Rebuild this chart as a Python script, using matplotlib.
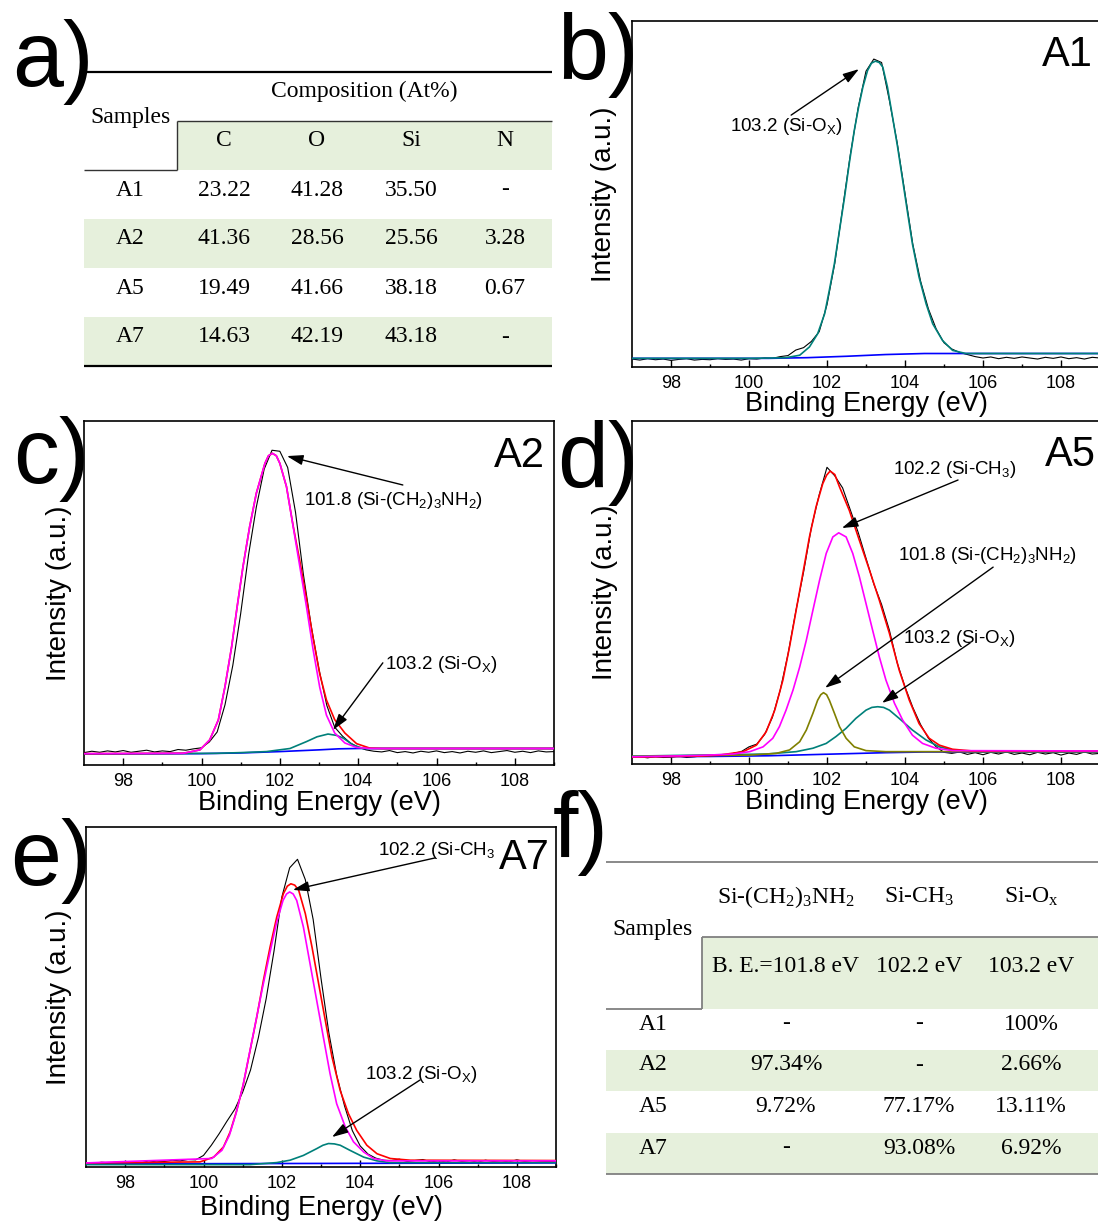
import numpy as np
import matplotlib
matplotlib.use('Agg')
import matplotlib.pyplot as plt
from matplotlib.patches import Rectangle

plt.rcParams['font.family'] = ['Liberation Sans', 'DejaVu Sans']
plt.rcParams['mathtext.default'] = 'regular'

# ------------------------------------------------------------------
# data : tables
samples = ['A1', 'A2', 'A5', 'A7']
elements = ['C', 'O', 'Si', 'N']
composition = [['23.22', '41.28', '35.50', '-'],
               ['41.36', '28.56', '25.56', '3.28'],
               ['19.49', '41.66', '38.18', '0.67'],
               ['14.63', '42.19', '43.18', '-']]
bonds = ['Si-(CH$_2$)$_3$NH$_2$', 'Si-CH$_3$', 'Si-O$_x$']
bond_be = ['B. E.=101.8 eV', '102.2 eV', '103.2 eV']
bond_pct = [['-', '-', '100%'],
            ['97.34%', '-', '2.66%'],
            ['9.72%', '77.17%', '13.11%'],
            ['-', '93.08%', '6.92%']]

# ------------------------------------------------------------------
# data : Si 2p spectra (intensity in % of plot height), raw on 0.2 eV steps
energy = np.linspace(97, 109, 61)

raw_a1 = [2.3, 2.0, 2.4, 2.1, 2.3, 1.9, 2.2, 2.4, 2.0, 2.2,
          2.1, 2.4, 2.2, 2.3, 2.0, 2.4, 2.3, 2.6, 2.5, 3.0,
          3.3, 4.9, 5.6, 7.4, 10.2, 18.0, 30.0, 45.8, 61.5, 75.0,
          85.5, 89.0, 88.0, 77.0, 64.8, 50.2, 35.5, 24.8, 16.8, 11.0,
          7.0, 5.2, 4.2, 3.6, 3.0, 2.6, 2.9, 2.4, 2.8, 2.5,
          2.9, 2.6, 2.3, 2.8, 2.5, 2.9, 2.4, 2.7, 2.3, 2.8,
          2.6]
raw_a2 = [3.6, 4.0, 3.7, 4.1, 3.8, 4.2, 3.7, 4.0, 4.3, 3.8,
          4.1, 3.9, 4.5, 4.3, 4.7, 5.0, 6.7, 9.6, 17.5, 29.0,
          44.0, 61.0, 75.0, 86.0, 91.5, 91.2, 86.5, 73.5, 55.5, 40.5,
          27.8, 17.3, 11.0, 8.4, 6.4, 5.2, 4.4, 4.0, 3.8, 4.2,
          3.6, 3.9, 3.5, 4.0, 3.7, 4.1, 3.6, 3.9, 3.5, 4.0,
          3.7, 4.1, 3.6, 3.9, 4.2, 3.7, 4.0, 3.6, 4.1, 3.8,
          3.9]
raw_a5 = [1.9, 2.1, 1.8, 2.2, 1.9, 2.0, 2.3, 1.9, 2.1, 2.4,
          2.2, 2.6, 2.5, 3.1, 3.6, 5.0, 5.8, 8.6, 13.6, 21.5,
          32.0, 44.5, 56.0, 69.0, 78.5, 86.5, 84.0, 80.5, 74.0, 67.5,
          60.0, 52.5, 46.5, 39.0, 29.5, 22.5, 16.5, 11.5, 7.5, 5.0,
          3.4, 3.1, 3.5, 2.8, 3.3, 2.7, 3.4, 2.9, 3.5, 2.8,
          3.2, 2.7, 3.4, 2.9, 3.3, 2.6, 3.2, 2.8, 3.5, 2.9,
          3.1]
raw_a7 = [1.3, 1.1, 1.4, 1.2, 1.5, 1.3, 1.4, 1.2, 1.8, 1.5,
          1.6, 2.0, 1.8, 2.2, 2.1, 3.4, 6.4, 9.8, 13.5, 17.0,
          22.0, 28.5, 38.0, 49.5, 63.5, 79.4, 88.0, 90.5, 84.5, 72.8,
          55.5, 39.5, 27.0, 18.0, 10.7, 6.2, 3.8, 2.6, 2.0, 1.9,
          2.3, 1.6, 1.9, 2.2, 1.5, 1.8, 1.5, 2.1, 1.6, 1.9,
          1.4, 2.0, 1.6, 1.8, 1.5, 2.1, 1.6, 1.9, 1.7, 1.6,
          1.7]

# A1 fit
a1_siox_x = [97.0, 100.0, 100.6, 100.95, 101.3, 101.55, 101.76, 101.94, 102.06, 102.19,
             102.32, 102.45, 102.57, 102.7, 102.81, 102.92, 103.04, 103.14, 103.24, 103.34,
             103.43, 103.55, 103.68, 103.81, 103.94, 104.07, 104.19, 104.36, 104.54, 104.71,
             104.96, 105.22, 105.56, 106.0, 109.0]
a1_siox_y = [2.5, 2.5, 2.6, 2.7, 3.4, 5.8, 9.6, 15.4, 22.2, 29.9,
             39.5, 49.1, 58.8, 68.4, 75.1, 80.9, 85.7, 87.8, 88.4, 88.0,
             86.7, 80.9, 72.3, 63.6, 54.0, 44.3, 35.6, 26.0, 18.3, 12.5,
             7.7, 4.8, 3.9, 3.9, 3.9]
a1_bg_x = [97.0, 100.5, 101.5, 102.5, 103.5, 104.5, 105.3, 109.0]
a1_bg_y = [2.5, 2.5, 2.7, 3.1, 3.6, 3.9, 3.9, 3.9]

# A2 fit
a2_amine_x = [97.0, 99.53, 99.96, 100.21, 100.43, 100.6, 100.77, 100.91, 101.06, 101.23,
              101.4, 101.62, 101.71, 101.81, 101.91, 102.0, 102.17, 102.34, 102.51, 102.68,
              102.85, 103.02, 103.19, 103.4, 103.66, 103.96, 104.3, 109.0]
a2_amine_y = [3.3, 3.4, 4.4, 7.3, 13.1, 22.8, 34.4, 46.0, 57.7, 69.3,
              79.0, 87.7, 89.9, 90.6, 89.9, 87.7, 80.9, 69.3, 57.7, 46.0,
              33.5, 22.5, 14.5, 9.3, 6.4, 5.1, 4.8, 4.8]
a2_env_x = [97.0, 99.53, 99.96, 100.21, 100.43, 100.6, 100.77, 100.91, 101.06, 101.23,
            101.4, 101.62, 101.71, 101.81, 101.91, 102.0, 102.17, 102.34, 102.51, 102.68,
            102.85, 103.02, 103.19, 103.4, 103.66, 103.96, 104.3, 104.6, 109.0]
a2_env_y = [3.3, 3.4, 4.4, 7.3, 13.1, 22.8, 34.4, 46.0, 57.7, 69.3,
            79.0, 87.7, 89.9, 90.6, 89.9, 87.7, 80.9, 69.5, 59.3, 48.3,
            36.8, 26.4, 18.9, 13.2, 9.3, 6.2, 4.9, 4.8, 4.8]
a2_siox_x = [97.0, 100.38, 101.0, 101.66, 102.26, 102.68, 102.95, 103.23, 103.45, 103.62,
             103.87, 104.13, 104.5, 109.0]
a2_siox_y = [3.2, 3.4, 3.6, 3.9, 4.8, 6.8, 8.2, 9.0, 8.6, 7.8,
             5.8, 4.8, 4.8, 4.8]
a2_bg_x = [97.0, 100.0, 101.0, 102.0, 103.0, 103.5, 104.0, 109.0]
a2_bg_y = [3.2, 3.3, 3.5, 3.9, 4.4, 4.7, 4.8, 4.8]

# A5 fit
a5_env_x = [97.0, 98.74, 99.25, 99.85, 100.19, 100.44, 100.66, 100.87, 101.04, 101.21,
            101.38, 101.55, 101.72, 101.89, 101.99, 102.08, 102.2, 102.32, 102.57, 102.83,
            103.09, 103.34, 103.6, 103.85, 104.11, 104.36, 104.62, 104.88, 105.22, 105.73,
            109.0]
a5_env_y = [2.0, 2.3, 2.6, 3.6, 5.5, 9.4, 15.7, 24.5, 34.2, 44.9,
            55.5, 66.2, 75.0, 81.7, 84.2, 85.4, 84.4, 80.8, 74.0, 65.2,
            56.5, 47.8, 38.1, 27.4, 18.6, 11.8, 7.5, 5.5, 4.3, 3.8,
            3.8]
a5_methyl_x = [97.0, 98.74, 99.59, 100.02, 100.36, 100.61, 100.78, 100.95, 101.13, 101.3,
               101.47, 101.64, 101.81, 101.98, 102.15, 102.3, 102.49, 102.66, 102.83, 103.0,
               103.17, 103.34, 103.51, 103.73, 103.94, 104.19, 104.45, 104.79, 105.22, 109.0]
a5_methyl_y = [2.1, 2.5, 2.9, 3.6, 5.0, 7.5, 10.9, 15.7, 21.6, 28.3,
               36.1, 44.9, 53.6, 61.4, 66.2, 67.4, 66.2, 61.4, 54.6, 46.8,
               39.0, 31.3, 24.5, 17.7, 12.8, 8.4, 6.0, 4.6, 3.9, 3.8]
a5_amine_x = [97.0, 100.02, 100.7, 101.04, 101.3, 101.47, 101.64, 101.76, 101.84, 101.91,
              101.99, 102.06, 102.19, 102.32, 102.49, 102.7, 103.0, 103.51, 109.0]
a5_amine_y = [2.2, 2.6, 3.1, 4.1, 6.5, 9.9, 14.8, 18.6, 20.2, 20.8,
              20.2, 18.6, 14.8, 10.9, 7.5, 5.0, 3.9, 3.6, 3.6]
a5_siox_x = [97.0, 100.44, 101.21, 101.64, 101.98, 102.23, 102.49, 102.74, 103.0, 103.15,
             103.3, 103.45, 103.6, 103.85, 104.19, 104.54, 104.88, 105.22, 105.73, 109.0]
a5_siox_y = [2.3, 2.9, 3.6, 4.6, 6.0, 8.0, 10.4, 13.3, 15.7, 16.5,
             16.7, 16.5, 15.7, 13.3, 9.9, 7.0, 5.0, 4.1, 3.6, 3.6]
a5_bg_x = [97.0, 99.0, 100.5, 101.5, 102.5, 103.5, 104.5, 109.0]
a5_bg_y = [2.1, 2.2, 2.4, 2.7, 3.0, 3.3, 3.5, 3.5]

# A7 fit
a7_env_x = [97.0, 99.91, 100.26, 100.51, 100.68, 100.85, 101.02, 101.19, 101.36, 101.53,
            101.7, 101.87, 102.04, 102.14, 102.23, 102.33, 102.43, 102.6, 102.77, 102.94,
            103.11, 103.28, 103.49, 103.7, 103.91, 104.17, 104.43, 104.77, 105.28, 109.0]
a7_env_y = [1.2, 1.5, 2.9, 5.9, 10.3, 16.7, 24.5, 34.3, 44.1, 54.9,
            64.7, 73.5, 80.4, 82.6, 83.3, 82.9, 81.4, 74.5, 64.7, 53.9,
            43.1, 32.4, 22.5, 15.7, 10.8, 6.4, 3.9, 2.5, 2.0, 1.9]
a7_methyl_x = [97.0, 100.21, 100.47, 100.66, 100.83, 101.0, 101.17, 101.34, 101.51, 101.69,
               101.86, 102.03, 102.12, 102.2, 102.29, 102.38, 102.55, 102.72, 102.89, 103.06,
               103.23, 103.4, 103.62, 103.83, 104.09, 104.34, 104.68, 109.0]
a7_methyl_y = [1.2, 2.5, 4.9, 9.3, 15.7, 23.5, 33.3, 43.1, 52.9, 62.7,
               71.6, 78.4, 80.3, 80.9, 80.3, 78.4, 70.6, 59.8, 49.0, 38.2,
               27.5, 18.6, 11.8, 7.4, 4.4, 2.5, 1.8, 1.8]
a7_siox_x = [97.0, 101.19, 101.87, 102.21, 102.55, 102.89, 103.05, 103.19, 103.34, 103.49,
             103.74, 104.09, 104.43, 104.77, 109.0]
a7_siox_y = [0.7, 0.7, 1.3, 2.0, 3.4, 5.4, 6.4, 6.9, 6.8, 6.4,
             4.9, 2.9, 1.8, 1.3, 1.3]
a7_bg_x = [97.0, 109.0]
a7_bg_y = [0.9, 1.2]

RED, MAG, TEAL, OLIVE, BLUE = '#ff0000', '#ff00ff', '#00807a', '#808000', '#0000ff'
GREEN = '#e6f0dc'

# ------------------------------------------------------------------
W, H = 1098., 1227.
fig = plt.figure(figsize=(W / 100, H / 100), dpi=100)


def px_axes(l, t, r, b):
    return fig.add_axes([l / W, 1 - b / H, (r - l) / W, (b - t) / H])


def spectrum(box, raw, curves, tag, tag_pos, notes, xl, yl):
    ax = px_axes(*box)
    ax.plot(energy, raw, color='k', lw=0.8, zorder=2)
    for i, (xs, ys, col) in enumerate(curves):
        ax.plot(xs, ys, color=col, lw=1.2, zorder=3 + i)
    ax.set_xlim(97, 109)
    ax.set_ylim(0, 100)
    ax.set_xticks(range(98, 109, 2))
    ax.set_xticks(range(99, 110, 2), minor=True)
    ax.set_yticks([])
    ax.tick_params(axis='x', which='both', direction='in', labelsize=13, pad=6, width=1)
    ax.tick_params(axis='x', which='major', length=5)
    ax.tick_params(axis='x', which='minor', length=2.5)
    for s in ax.spines.values():
        s.set_linewidth(1.2)
    ax.set_xlabel('Binding Energy (eV)', fontsize=19.5)
    ax.xaxis.set_label_coords(0.5, xl)
    ax.set_ylabel('Intensity (a.u.)', fontsize=20)
    ax.yaxis.set_label_coords(yl, 0.5)
    for text, tx, ty, x0, y0, x1, y1 in notes:
        ax.text(tx, ty, text, fontsize=13.5, ha='left', va='center', zorder=10)
        ax.annotate('', xy=(x1, y1), xytext=(x0, y0), zorder=10,
                    arrowprops=dict(arrowstyle='-|>,head_length=0.7,head_width=0.22',
                                    color='k', lw=1.0, mutation_scale=14,
                                    shrinkA=0, shrinkB=0))
    ax.text(tag_pos[0], tag_pos[1], tag, transform=ax.transAxes, ha='right',
            va='baseline', fontsize=30, zorder=11)
    return ax


siox = '103.2 (Si-O$_X$)'
spectrum((632, 21, 1100, 367), raw_a1,
         [(a1_bg_x, a1_bg_y, BLUE), (a1_siox_x, a1_siox_y, TEAL)],
         'A1', (0.985, 0.870),
         [(siox, 99.51, 69.4, 101.08, 72.8, 102.82, 86.1)],
         -0.069, -0.032)

spectrum((84, 421, 554, 765), raw_a2,
         [(a2_bg_x, a2_bg_y, BLUE), (a2_siox_x, a2_siox_y, TEAL),
          (a2_env_x, a2_env_y, RED), (a2_amine_x, a2_amine_y, MAG)],
         'A2', (0.981, 0.866),
         [('101.8 (Si-(CH$_2$)$_3$NH$_2$)', 102.62, 77.0, 105.14, 81.4, 102.18, 89.8),
          (siox, 104.68, 29.1, 104.63, 29.7, 103.36, 10.2)],
         -0.073, -0.026)

spectrum((632, 421, 1100, 764), raw_a5,
         [(a5_bg_x, a5_bg_y, BLUE), (a5_siox_x, a5_siox_y, TEAL),
          (a5_amine_x, a5_amine_y, OLIVE), (a5_env_x, a5_env_y, RED),
          (a5_methyl_x, a5_methyl_y, MAG)],
         'A5', (0.991, 0.869),
         [('102.2 (Si-CH$_3$)', 103.69, 86.0, 105.36, 82.8, 102.38, 68.8),
          ('101.8 (Si-(CH$_2$)$_3$NH$_2$)', 103.82, 60.9, 106.26, 57.4, 101.95, 22.2),
          (siox, 103.95, 36.7, 105.67, 35.3, 103.41, 17.8)],
         -0.073, -0.030)

spectrum((86, 827, 556, 1167), raw_a7,
         [(a7_bg_x, a7_bg_y, BLUE), (a7_siox_x, a7_siox_y, TEAL),
          (a7_env_x, a7_env_y, RED), (a7_methyl_x, a7_methyl_y, MAG)],
         'A7', (0.987, 0.876),
         [('102.2 (Si-CH$_3$', 104.45, 93.2, 105.91, 90.9, 102.28, 81.5),
          (siox, 104.12, 27.1, 105.53, 25.6, 103.28, 8.8)],
         -0.082, -0.030)

# ------------------------------------------------------------------
# overlay in pixel units for tables and panel letters
ov = fig.add_axes([0, 0, 1, 1], facecolor='none')
ov.set_xlim(0, W)
ov.set_ylim(H, 0)
ov.axis('off')

for lab, x, y in [('a)', 12, 86), ('b)', 557, 79), ('c)', 13, 483),
                  ('d)', 557, 487), ('e)', 10, 885), ('f)', 553, 857)]:
    ov.text(x, y, lab, fontsize=66, ha='left', va='baseline')

serif = dict(family=['Liberation Serif', 'DejaVu Serif'], fontsize=17,
             ha='center', va='center')

# table a)
a_left, a_right, a_split = 84, 552, 177
a_cols = [224, 317, 411, 505]
a_rows = [170, 219, 268, 317, 366]
a_text_y = [190, 239, 288, 337]
ov.add_patch(Rectangle((a_split, 121), a_right - a_split, 49, color=GREEN, lw=0))
for i in (1, 3):
    ov.add_patch(Rectangle((a_left, a_rows[i]), a_right - a_left,
                           a_rows[i + 1] - a_rows[i], color=GREEN, lw=0))
ov.hlines(72, a_left, a_right, color='k', lw=1.6)
ov.hlines(121, a_split, a_right, color='#333333', lw=1.0)
ov.hlines(170, a_left, a_split, color='#333333', lw=1.0)
ov.vlines(a_split, 121, 170, color='#333333', lw=1.0)
ov.hlines(366, a_left, a_right, color='k', lw=1.6)
ov.text(364, 91, 'Composition (At%)', **serif)
ov.text(130, 117, 'Samples', **serif)
for x, el in zip(a_cols, elements):
    ov.text(x, 140, el, **serif)
for y, s, vals in zip(a_text_y, samples, composition):
    ov.text(130, y, s, **serif)
    for x, v in zip(a_cols, vals):
        ov.text(x, y, v, **serif)

# table f)
f_left, f_right, f_split = 606, 1098, 702
f_cols = [786, 919, 1031]
f_rows = [1009, 1050, 1091, 1133, 1174]
f_text_y = [1024, 1065, 1107, 1148]
ov.add_patch(Rectangle((f_split, 937), f_right - f_split, 72, color=GREEN, lw=0))
for i in (1, 3):
    ov.add_patch(Rectangle((f_left, f_rows[i]), f_right - f_left,
                           f_rows[i + 1] - f_rows[i], color=GREEN, lw=0))
gray = '#808080'
ov.hlines(862, f_left, f_right, color=gray, lw=1.3)
ov.hlines(937, f_split, f_right, color=gray, lw=1.3)
ov.hlines(1009, f_left, f_split, color=gray, lw=1.3)
ov.vlines(f_split, 937, 1009, color=gray, lw=1.3)
ov.hlines(1174, f_left, f_right, color=gray, lw=1.3)
ov.text(653, 930, 'Samples', **serif)
for x, name, be in zip(f_cols, bonds, bond_be):
    ov.text(x, 897, name, **serif)
    ov.text(x, 967, be, **serif)
for y, s, vals in zip(f_text_y, samples, bond_pct):
    ov.text(653, y, s, **serif)
    for x, v in zip(f_cols, vals):
        ov.text(x, y, v, **serif)

fig.savefig('out.png', dpi=100)
